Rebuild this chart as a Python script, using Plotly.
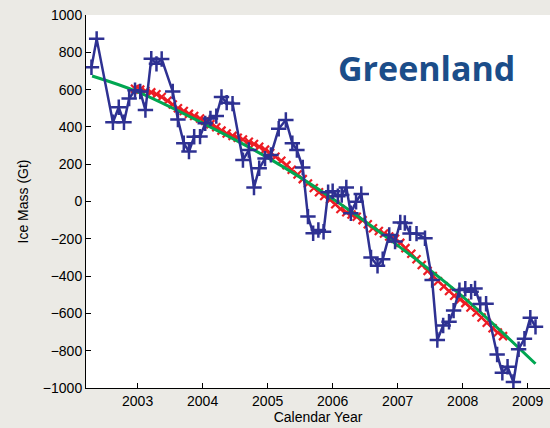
import plotly.graph_objects as go

# Monthly GRACE ice-mass anomaly (blue)
blue_t = [2002.29, 2002.37, 2002.62, 2002.71, 2002.79, 2002.87, 2002.96, 2003.04, 2003.12, 2003.21,
          2003.29, 2003.37, 2003.54, 2003.62, 2003.71, 2003.79, 2003.87, 2003.96, 2004.04, 2004.12,
          2004.21, 2004.29, 2004.37, 2004.46, 2004.62, 2004.71, 2004.79, 2004.87, 2004.96, 2005.05,
          2005.17, 2005.28, 2005.38, 2005.45, 2005.54, 2005.62, 2005.70, 2005.78, 2005.86, 2005.93,
          2006.00, 2006.08, 2006.14, 2006.21, 2006.28, 2006.36, 2006.44, 2006.59, 2006.69, 2006.77,
          2006.87, 2006.96, 2007.04, 2007.11, 2007.19, 2007.29, 2007.42, 2007.53, 2007.61, 2007.70,
          2007.79, 2007.86, 2007.95, 2008.04, 2008.13, 2008.19, 2008.27, 2008.36, 2008.53, 2008.61,
          2008.69, 2008.78, 2008.86, 2008.95, 2009.04, 2009.12]
blue_v = [720, 872, 425, 505, 425, 552, 597, 590, 490, 766,
          738, 764, 590, 440, 312, 268, 347, 348, 419, 445,
          458, 560, 530, 525, 222, 276, 75, 178, 230, 250,
          390, 437, 312, 276, 182, -81, -170, -153, -162, 50,
          55, 28, 35, 75, -63, -1, 40, -300, -345, -310,
          -180, -215, -112, -115, -171, -172, -197, -421, -743, -665,
          -645, -585, -475, -468, -484, -466, -550, -548, -820, -918,
          -886, -968, -792, -736, -623, -672]

# Smoothed series (red)
red_t = [2002.96, 2003.04, 2003.12, 2003.21, 2003.29, 2003.37, 2003.46, 2003.54, 2003.62, 2003.71,
         2003.79, 2003.87, 2003.96, 2004.04, 2004.12, 2004.21, 2004.29, 2004.37, 2004.46, 2004.54,
         2004.62, 2004.71, 2004.79, 2004.87, 2004.96, 2005.04, 2005.12, 2005.21, 2005.29, 2005.37,
         2005.46, 2005.54, 2005.62, 2005.71, 2005.79, 2005.87, 2005.96, 2006.04, 2006.12, 2006.21,
         2006.29, 2006.37, 2006.46, 2006.54, 2006.62, 2006.71, 2006.79, 2006.87, 2006.96, 2007.04,
         2007.12, 2007.21, 2007.29, 2007.37, 2007.46, 2007.54, 2007.62, 2007.71, 2007.79, 2007.87,
         2007.96, 2008.04, 2008.12, 2008.21, 2008.29, 2008.37, 2008.46, 2008.54, 2008.62]
red_v = [605, 600, 592, 585, 575, 560, 540, 520, 500, 485,
         470, 458, 445, 432, 415, 398, 380, 365, 352, 342,
         332, 320, 308, 294, 278, 260, 240, 218, 195, 170,
         145, 120, 97, 72, 50, 30, 10, -15, -40, -58,
         -70, -82, -100, -122, -143, -158, -172, -188, -200, -222,
         -250, -280, -310, -340, -372, -400, -428, -455, -480, -505,
         -525, -545, -568, -595, -622, -650, -680, -702, -722]

# Fitted trend (green)
green_t = [2002.30, 2003.0, 2004.0, 2005.0, 2006.0, 2007.0, 2008.0, 2009.12]
green_v = [673, 588, 420, 235, 15, -235, -510, -870]

x_ticks = [2003, 2004, 2005, 2006, 2007, 2008, 2009]
y_ticks = [-1000, -800, -600, -400, -200, 0, 200, 400, 600, 800, 1000]

fig = go.Figure()
fig.add_trace(go.Scatter(x=red_t, y=red_v, mode="lines+markers",
                         line=dict(color="#ED1C24", width=2),
                         marker=dict(symbol="x-thin-open", size=8,
                                     line=dict(color="#ED1C24", width=2.2)),
                         showlegend=False))
fig.add_trace(go.Scatter(x=green_t, y=green_v, mode="lines",
                         line=dict(color="#00A651", width=3, shape="spline"),
                         showlegend=False))
fig.add_trace(go.Scatter(x=blue_t, y=blue_v, mode="lines+markers",
                         line=dict(color="#2E3192", width=2.5),
                         marker=dict(symbol="cross-thin-open", size=11,
                                     line=dict(color="#2E3192", width=2.5)),
                         showlegend=False))

font_family = "Liberation Sans, Arial, sans-serif"
fig.update_layout(
    width=550, height=428,
    margin=dict(l=86, r=0, t=15, b=40),
    paper_bgcolor="#EBEAE5",
    plot_bgcolor="#FFFFFF",
    font=dict(family=font_family, size=14, color="#000000"),
    xaxis=dict(range=[2002.206, 2009.343], tickvals=x_ticks, ticks="inside", ticklen=5,
               tickcolor="#000", showline=True, linecolor="#000", linewidth=1,
               showgrid=False, zeroline=False, mirror=False, automargin=False,
               title=dict(text="Calendar Year", standoff=0, font=dict(size=14)),
               tickfont=dict(size=14)),
    yaxis=dict(range=[-1000, 1000], tickvals=y_ticks, ticks="inside", ticklen=5,
               tickcolor="#000", showline=True, linecolor="#000", linewidth=1,
               showgrid=False, zeroline=False, mirror=False, automargin=False,
               title=dict(text="Ice Mass (Gt)", standoff=10, font=dict(size=14)),
               tickfont=dict(size=14)),
    annotations=[dict(text="<b>Greenland</b>", xref="paper", yref="paper",
                      x=0.928, y=0.926, xanchor="right", yanchor="top", showarrow=False,
                      font=dict(family="Open Sans, sans-serif", size=34, color="#1B4D89"))],
)

fig.write_html("out.html", config={"displayModeBar": False},
               post_script="document.body.style.margin='0';document.body.style.background='#EBEAE5';")
